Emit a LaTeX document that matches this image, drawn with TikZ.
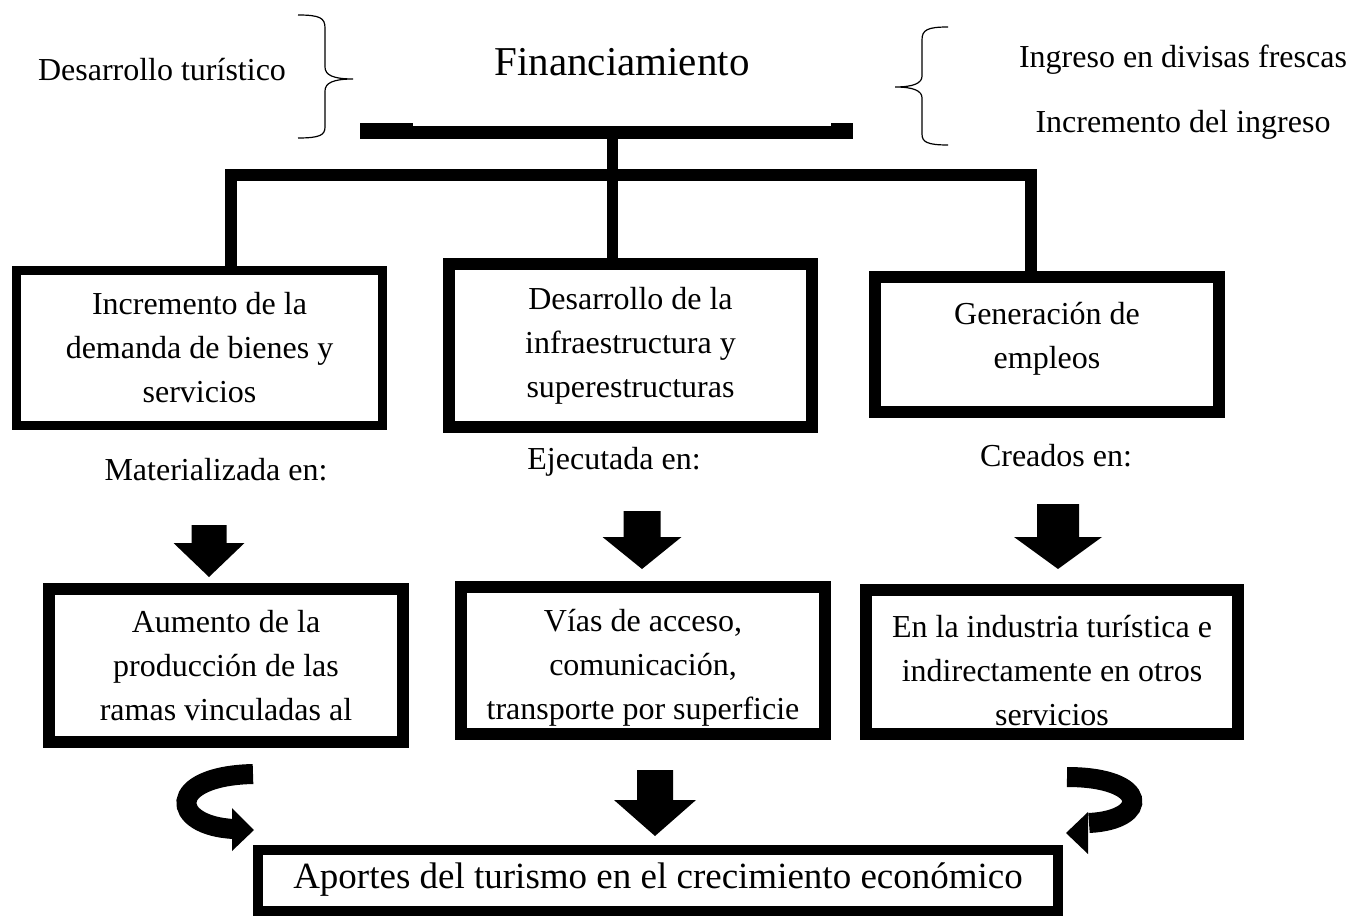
\documentclass[tikz,border=0pt]{standalone}
\usepackage{fontspec}
\setmainfont{Liberation Serif}
\usetikzlibrary{decorations.pathreplacing}

\begin{document}
\begin{tikzpicture}[x=1pt,y=-1pt]
	\tikzstyle{box} = [draw, line width=12pt, rectangle, align=center, inner sep=0pt, font={\fontsize{32}{44}\selectfont}]
	\tikzstyle{boxtext} = [align=center, inner sep=0pt, font={\fontsize{32}{44}\selectfont}]
	\tikzstyle{note} = [font={\fontsize{32}{44}\selectfont}]
	\tikzstyle{trunk} = [line width=12pt]
	\tikzstyle{curly} = [line width=1.2pt]
	\tikzstyle{hookarrow} = [line width=20pt]
	\tikzset{pics/blockdown/.style n args={4}{code={\fill (-#1,-#4) -- (#1,-#4) -- (#1,-#3) -- (#2,-#3) -- (0,0) -- (-#2,-#3) -- (-#1,-#3) -- cycle;}}}
	\useasboundingbox (0,0) rectangle (1349,917);

	% cabecera
	\node[note] (turismo) at (162,70) {Desarrollo turístico};
	\node[font={\fontsize{41}{48}\selectfont}] (fin) at (622,62) {Financiamiento};
	\node[note] (divisas) at (1183,60) {Ingreso en divisas frescas};
	\node[note] (ingreso) at (1183,125) {Incremento del ingreso};
	\draw[curly] (298,15) .. controls (320,15) and (325,18) .. (325,28) -- (325,67) .. controls (325,75) and (333,79) .. (353,79)
		.. controls (333,79) and (325,83) .. (325,91) -- (325,127) .. controls (325,135) and (320,138) .. (298,138);
	\draw[curly] (948,27) .. controls (927,27) and (922,30) .. (922,40) -- (922,76) .. controls (922,83) and (914,87) .. (895,87)
		.. controls (914,87) and (922,91) .. (922,98) -- (922,134) .. controls (922,142) and (927,145) .. (948,145);

	% primer nivel
	\node[box, line width=9pt, minimum width=366pt, minimum height=155pt] (demanda) at (199.5,348) {Incremento de la\\demanda de bienes y\\servicios};
	\node[box, minimum width=363pt, minimum height=163pt] (infra) at (630.5,345.5) {Desarrollo de la\\infraestructura y\\superestructuras};
	\node[box, minimum width=344pt, minimum height=135pt,
		label={[boxtext, yshift=6pt]center:{Generación de\\empleos}}] (empleo) at (1047,344.5) {};

	\node[note] (mat) at (216,470) {Materializada en:};
	\node[note] (eje) at (614,462) {Ejecutada en:};
	\node[note] (cre) at (1056,456) {Creados en:};

	% segundo nivel
	\node[box, minimum width=354pt, minimum height=153pt] (produccion) at (226,665.5) {Aumento de la\\producción de las\\ramas vinculadas al};
	\node[box, minimum width=364pt, minimum height=147pt,
		label={[boxtext, yshift=-7pt]center:{Vías de acceso,\\comunicación,\\transporte por superficie}}] (vias) at (643,660.5) {};
	\node[box, minimum width=372pt, minimum height=144pt,
		label={[boxtext, yshift=-9pt]center:{En la industria turística e\\indirectamente en otros\\servicios}}] (industria) at (1052,662) {};

	\node[box, line width=10pt, minimum width=800pt, minimum height=61pt, font={\fontsize{37}{42}\selectfont}] (aportes) at (658,880) {Aportes del turismo en el crecimiento económico};

	% barras
	\coordinate (barW) at (360,132.5);
	\coordinate (barE) at (853,132.5);
	\coordinate (hub) at (612,139);
	\coordinate (jL) at (231,175);
	\coordinate (jR) at (1031,175);
	\draw[line width=13pt] (barW) -- (barE);
	\fill (barW) ++(0,-9.5) rectangle ++(53,16);
	\fill (barE) ++(0,-9.5) rectangle ++(-22,16);
	\draw[line width=11pt] (hub) -- (hub |- infra.north);
	\draw[trunk] (jL |- demanda.north) -- (jL) -- (jR) -- (jR |- empleo.north);

	% flechas
	\pic at (209,577) {blockdown={17.5}{35.5}{34}{52}};
	\pic at (642,569) {blockdown={18.5}{39.5}{32}{58}};
	\pic at (1058,569) {blockdown={21}{44}{32}{65}};
	\pic at (655,836) {blockdown={18}{41}{36}{66}};

	\draw[hookarrow] (253,774) .. controls (165,776) and (170,826) .. (234,829);
	\fill (232,808) -- (254,830) -- (232,851) -- cycle;
	\draw[hookarrow] (1067,777) .. controls (1150,777) and (1150,820) .. (1089,823);
	\fill (1088,812) -- (1066,833) -- (1088,854) -- cycle;
\end{tikzpicture}
\end{document}
